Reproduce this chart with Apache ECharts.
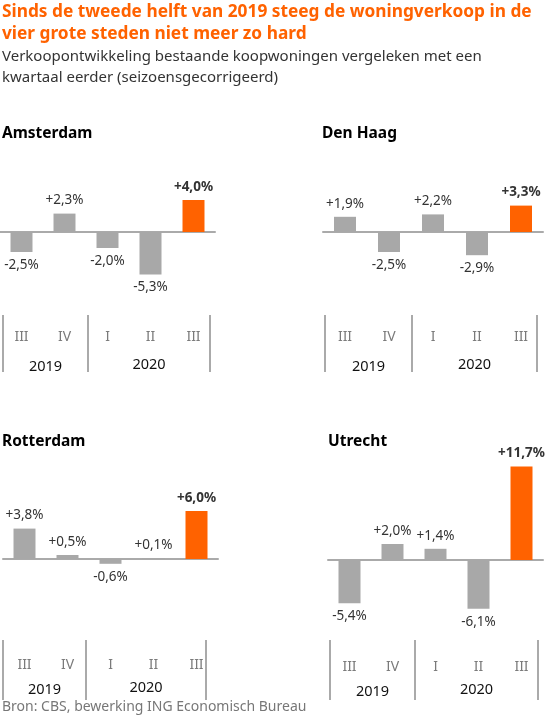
<!DOCTYPE html><html><head><meta charset="utf-8"><script src="https://cdn.jsdelivr.net/npm/echarts@6/dist/echarts.min.js"></script>
<style>body{margin:0}#c{width:550px;height:720px}</style></head><body><div id="c"></div><script>
const quarters=['III','IV','I','II','III'];
const years=['2019','2020'];
const cities=['Amsterdam','Den Haag','Rotterdam','Utrecht'];
const amsterdam=[-2.5,2.3,-2.0,-5.3,4.0];
const denHaag=[1.9,-2.5,2.2,-2.9,3.3];
const rotterdam=[3.8,0.5,-0.6,0.1,6.0];
const utrecht=[-5.4,2.0,1.4,-6.1,11.7];
const values=[amsterdam,denHaag,rotterdam,utrecht];
const F='"Noto Sans", sans-serif';
const FF='Noto Sans';
const panels=[
 {left:0,width:215,base:232,min:-7,max:6,tx:2,ty:126,lab:330,yr:367,sep:[3,88,210],st:315,en:372},
 {left:323,width:220,base:232,min:-7,max:6,tx:322,ty:126,lab:330,yr:367,sep:[325,412,537],st:315,en:372},
 {left:3,width:215,base:559,min:-7,max:6,tx:2,ty:434,lab:658,yr:690,sep:[3,86,206],st:640,en:700},
 {left:328,width:215,base:560,min:-7,max:13,tx:328,ty:434,lab:660,yr:692,sep:[330,415,538],st:640,en:700}
];
const ppu=8;
const grid=[],xAxis=[],yAxis=[],series=[],graphic=[];
graphic.push({type:'text',left:2,top:1,style:{text:'Sinds de tweede helft van 2019 steeg de woningverkoop in de\nvier grote steden niet meer zo hard',font:'bold 17.3px '+F,fill:'#FF6200',lineHeight:22}});
graphic.push({type:'text',left:2,top:46,style:{text:'Verkoopontwikkeling bestaande koopwoningen vergeleken met een\nkwartaal eerder (seizoensgecorrigeerd)',font:'15px '+F,fill:'#333',lineHeight:21}});
graphic.push({type:'text',left:2,top:700,style:{text:'Bron: CBS, bewerking ING Economisch Bureau',font:'14px '+F,fill:'#777'}});
panels.forEach((p,i)=>{
 const top=p.base-p.max*ppu, h=(p.max-p.min)*ppu;
 grid.push({left:p.left,top:top,width:p.width,height:h});
 xAxis.push({gridIndex:i,type:'category',data:quarters,axisLine:{onZero:true,lineStyle:{color:'#aaa',width:2}},axisTick:{show:false},axisLabel:{show:false}});
 xAxis.push({gridIndex:i,type:'category',data:quarters,position:'bottom',offset:p.lab-(top+h)-8,axisLine:{show:false},axisTick:{show:false},axisLabel:{color:'#7a7a7a',fontSize:14,fontFamily:FF}});
 yAxis.push({gridIndex:i,type:'value',min:p.min,max:p.max,show:false,splitLine:{show:false}});
 series.push({type:'bar',xAxisIndex:2*i,yAxisIndex:i,barWidth:22,
  data:values[i].map((v,j)=>({value:v,itemStyle:{color:j===4?'#FF6200':'#A8A8A8'},
   label:{show:true,position:v>=0?'top':'bottom',distance:6,fontFamily:FF,fontSize:13.5,color:'#333',fontWeight:j===4?'bold':'normal',
    formatter:(v>=0?'+':'')+v.toFixed(1).replace('.',',')+'%'}}))});
 graphic.push({type:'text',left:p.tx,top:p.ty,style:{text:cities[i],font:'bold 15.5px '+F,fill:'#000'}});
 p.sep.forEach(x=>graphic.push({type:'line',shape:{x1:x,y1:p.st,x2:x,y2:p.en},style:{stroke:'#aaa',lineWidth:2}}));
 graphic.push({type:'text',x:(p.sep[0]+p.sep[1])/2,y:p.yr,style:{text:years[0],font:'14.5px '+F,fill:'#111',align:'center',verticalAlign:'middle'}});
 graphic.push({type:'text',x:(p.sep[1]+p.sep[2])/2,y:p.yr-2,style:{text:years[1],font:'14.5px '+F,fill:'#111',align:'center',verticalAlign:'middle'}});
});
const c=echarts.init(document.getElementById('c'));
c.setOption({animation:false,grid,xAxis,yAxis,series,graphic});
</script></body></html>
